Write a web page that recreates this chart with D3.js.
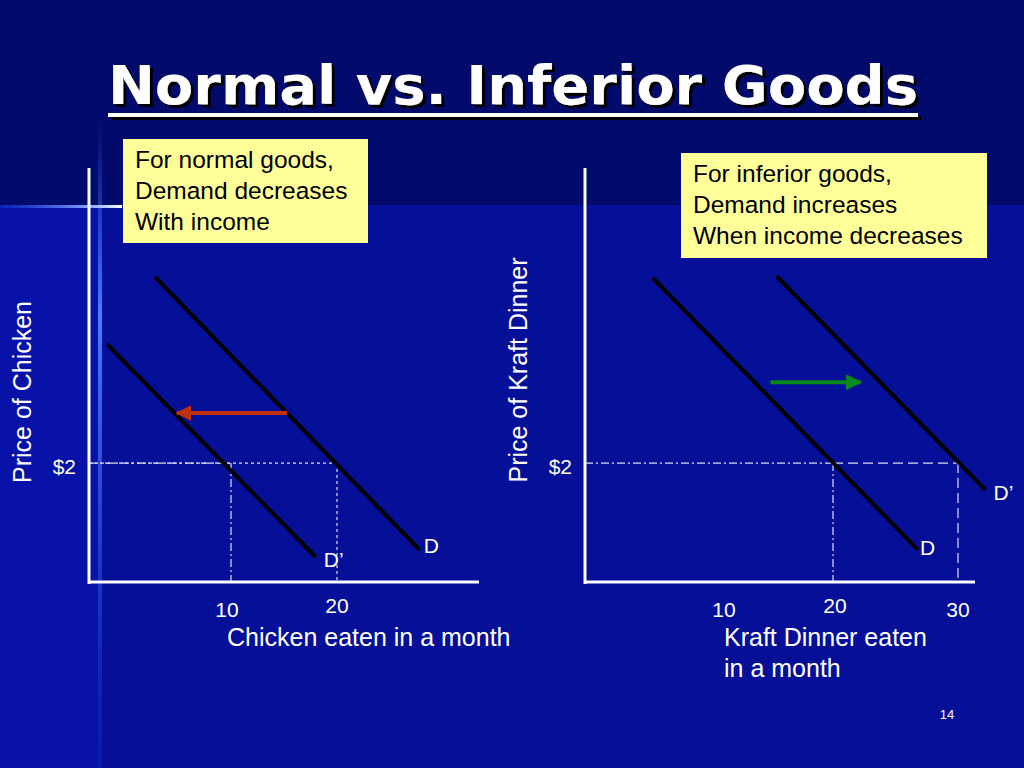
<!DOCTYPE html>
<html><head><meta charset="utf-8">
<script src="https://cdn.jsdelivr.net/npm/d3@7"></script>
<style>body{margin:0;background:#020a6c}svg{display:block}</style></head>
<body><svg id="c" width="1024" height="768"></svg>
<script>
const title = "Normal vs. Inferior Goods";
const priceTickLabel = "$2";
const priceLevel = 2;
const leftTicks = [10, 20];
const rightTicks = [10, 20, 30];
// demand curves [q0,p0,q1,p1]
const leftD = [2.83, 5.13, 27.8, 0.54];
const leftDp = [-1.7, 4.0, 18.0, 0.42];
const rightD = [5.6, 5.11, 26.8, 0.54];
const rightDp = [15.5, 5.14, 32.2, 1.55];
const leftArrow = [15.3, 4.9, 2.84];
const rightArrow = [15.0, 22.2, 3.36];
const leftBox = ["For normal goods,", "Demand decreases", "With income"];
const rightBox = ["For inferior goods,", "Demand increases", "When income decreases"];

const svg = d3.select("#c");
const defs = svg.append("defs");
const gv = defs.append("linearGradient").attr("id","gv").attr("x1",0).attr("y1",0).attr("x2",0).attr("y2",1);
gv.append("stop").attr("offset","0").attr("stop-color","#2a5cff").attr("stop-opacity",0);
gv.append("stop").attr("offset","0.3").attr("stop-color","#4c7dff");
gv.append("stop").attr("offset","1").attr("stop-color","#1030c0").attr("stop-opacity",0.3);
const gh = defs.append("linearGradient").attr("id","gh");
gh.append("stop").attr("offset","0").attr("stop-color","#2a5cff").attr("stop-opacity",0.2);
gh.append("stop").attr("offset","0.8").attr("stop-color","#9fb8ff");
gh.append("stop").attr("offset","1").attr("stop-color","#ffffff");
const f = defs.append("filter").attr("id","sh").attr("x","-5%").attr("y","-20%").attr("width","110%").attr("height","150%");
f.append("feDropShadow").attr("dx",3).attr("dy",3).attr("stdDeviation",0).attr("flood-color","#000").attr("flood-opacity",1);
[["red","#c0300c"],["green","#0a8a1a"]].forEach(([id,c])=>{
  defs.append("marker").attr("id",id).attr("viewBox","0 0 10 10").attr("refX",9).attr("refY",5)
   .attr("markerWidth",4).attr("markerHeight",4).attr("orient","auto")
   .append("path").attr("d","M0,0L10,5L0,10Z").attr("fill",c);
});

// background
svg.append("rect").attr("width",1024).attr("height",768).attr("fill","#020a6c");
svg.append("rect").attr("x",0).attr("y",205).attr("width",100).attr("height",563).attr("fill","#0612a8");
svg.append("rect").attr("x",100).attr("y",205).attr("width",924).attr("height",563).attr("fill","#050f98");
svg.append("rect").attr("x",98).attr("y",120).attr("width",4).attr("height",648).attr("fill","url(#gv)");
svg.append("rect").attr("x",0).attr("y",205).attr("width",122).attr("height",3).attr("fill","url(#gh)");

// title
const tg = svg.append("g").attr("filter","url(#sh)");
tg.append("text").attr("x",108).attr("y",104).attr("font-family","DejaVu Sans")
  .attr("font-weight","bold").attr("font-size",54).attr("textLength",810).attr("lengthAdjust","spacingAndGlyphs")
  .attr("fill","#fff").text(title);
tg.append("rect").attr("x",108).attr("y",113).attr("width",810).attr("height",4).attr("fill","#fff");

function chart(cfg){
  const x = d3.scaleLinear().domain(cfg.xd).range([cfg.x0, cfg.x1]);
  const y = d3.scaleLinear().domain([0,6.96]).range([582,168]);
  const g = svg.append("g");
  const x0 = cfg.x0;
  const py = y(priceLevel);
  cfg.guides.forEach(gd=>{
    g.append("line").attr("x1",gd.from!==undefined?x(gd.from):x0).attr("x2",x(gd.q)).attr("y1",py).attr("y2",py)
     .attr("stroke","#dde").attr("stroke-width",1.2).attr("stroke-dasharray",gd.dash);
    g.append("line").attr("x1",x(gd.q)).attr("x2",x(gd.q)).attr("y1",py).attr("y2",582)
     .attr("stroke","#dde").attr("stroke-width",1.2).attr("stroke-dasharray",gd.dash);
  });
  cfg.curves.forEach(([c,l,dx,dy])=>{
    g.append("line").attr("x1",x(c[0])).attr("y1",y(c[1])).attr("x2",x(c[2])).attr("y2",y(c[3]))
     .attr("stroke","#000").attr("stroke-width",4);
    g.append("text").attr("x",x(c[2])+dx).attr("y",y(c[3])+dy).attr("fill","#fff")
     .attr("font-family","Liberation Sans").attr("font-size",21).text(l);
  });
  const a = cfg.arrow;
  g.append("line").attr("x1",x(a[0])).attr("x2",x(a[1])).attr("y1",y(a[2])).attr("y2",y(a[2]))
   .attr("stroke",cfg.ac).attr("stroke-width",4).attr("marker-end",`url(#${cfg.am})`);
  g.append("line").attr("x1",x0).attr("x2",x0).attr("y1",168).attr("y2",584).attr("stroke","#fff").attr("stroke-width",3);
  g.append("line").attr("x1",x0).attr("x2",cfg.x1).attr("y1",582).attr("y2",582).attr("stroke","#fff").attr("stroke-width",3);
  cfg.ticks.forEach((v,i)=>{
    g.append("text").attr("x",x(v)+(cfg.tdx[i]||0)).attr("y",cfg.ty[i]).attr("text-anchor","middle").attr("fill","#fff")
     .attr("font-family","Liberation Sans").attr("font-size",21).text(v);
  });
  g.append("text").attr("x",x0-13).attr("y",py+11).attr("text-anchor","end").attr("fill","#fff")
   .attr("font-family","Liberation Sans").attr("font-size",21).text(priceTickLabel);
  g.append("text").attr("transform",`translate(${cfg.ylx},${cfg.yly}) rotate(-90)`).attr("text-anchor","middle")
   .attr("fill","#fff").attr("font-family","Liberation Sans").attr("font-size",25).text(cfg.ylab);
  cfg.xlab.forEach((s,i)=>g.append("text").attr("x",cfg.xlx).attr("y",646+i*31).attr("fill","#fff")
   .attr("font-family","Liberation Sans").attr("font-size",25).text(s));
  const b = cfg.box;
  g.append("rect").attr("x",b.x).attr("y",b.y).attr("width",b.w).attr("height",b.h).attr("fill","#ffff99");
  b.lines.forEach((s,i)=>g.append("text").attr("x",b.x+12).attr("y",b.y+29+i*31).attr("fill","#000")
   .attr("font-family","Liberation Sans").attr("font-size",24.5).text(s));
}

chart({x0:89,x1:479,xd:[-3.4,33.4],
  guides:[{q:leftTicks[0],dash:"8,3,2,3"},{q:leftTicks[1],dash:"3,3"}],
  curves:[[leftD,"D",4,3],[leftDp,"D\u2019",8,10]],
  arrow:leftArrow, ac:"#c0300c", am:"red",
  ticks:leftTicks, tdx:[-4,0], ty:[617,613],
  ylab:"Price of Chicken", ylx:31, yly:392,
  xlab:["Chicken eaten in a month"], xlx:227,
  box:{x:123,y:139,w:245,h:104,lines:leftBox}});
chart({x0:585,x1:975,xd:[0.16,31.36],
  guides:[{q:rightTicks[1],dash:"8,3,2,3"},{q:rightTicks[2],from:rightTicks[1],dash:"10,5"}],
  curves:[[rightD,"D",2,5],[rightDp,"D\u2019",8,10]],
  arrow:rightArrow, ac:"#0a8a1a", am:"green",
  ticks:rightTicks, tdx:[16,2,0], ty:[617,613,617],
  ylab:"Price of Kraft Dinner", ylx:527, yly:370,
  xlab:["Kraft Dinner eaten","in a month"], xlx:724,
  box:{x:681,y:153,w:306,h:105,lines:rightBox}});
svg.append("text").attr("x",947).attr("y",719).attr("text-anchor","middle").attr("fill","#fff")
  .attr("font-family","Liberation Sans").attr("font-size",13).text("14");
</script></body></html>
